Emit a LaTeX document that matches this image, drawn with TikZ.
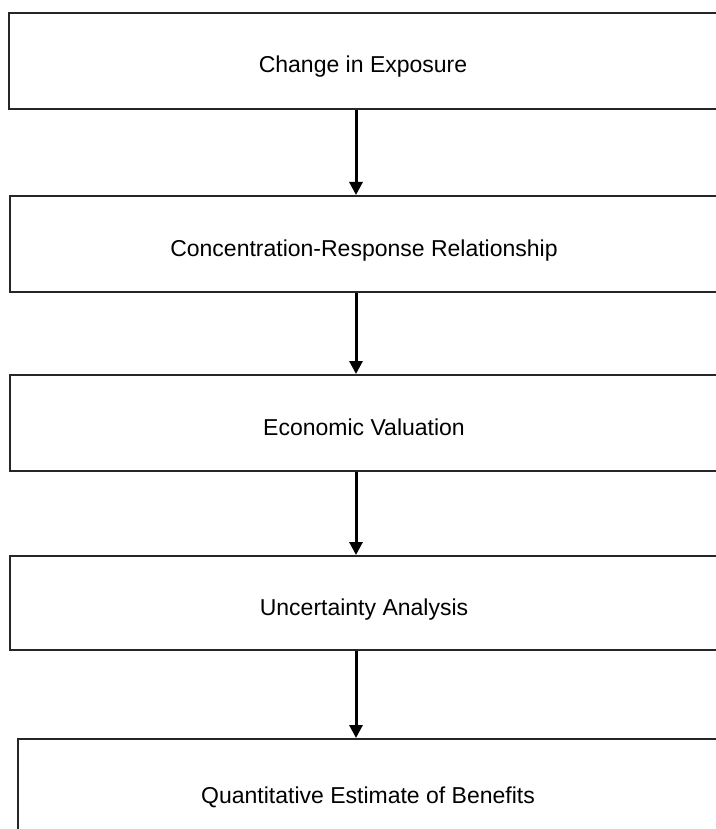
\documentclass[tikz,border=0pt]{standalone}
\usepackage{fontspec}
\setmainfont{Liberation Sans}
\usetikzlibrary{arrows.meta}

\begin{document}
\begin{tikzpicture}
  [x=1pt,y=-1pt,
   every node/.style={rectangle,draw=black!85,line width=2pt,anchor=north west,
     minimum width=708pt,minimum height=96pt,inner sep=0pt,
     text height=24pt,text depth=0pt,
     font=\fontsize{23}{27}\selectfont},
   flow/.style={line width=3pt,-{Triangle[width=13pt,length=13pt]}}]
  \useasboundingbox (0,0) rectangle (715,829);
  \node (n1) at (8,12)  {Change in Exposure};
  \node (n2) at (9,195) {Concentration-Response Relationship};
  \node (n3) at (9,374) {Economic Valuation};
  \node (n4) at (9,555) [minimum height=94pt] {Uncertainty Analysis};
  \node (n5) at (17,738) [minimum height=104pt,minimum width=700pt] {Quantitative Estimate of Benefits};
  \coordinate (ax) at (356,0);
  \foreach \from/\to in {n1/n2,n2/n3,n3/n4,n4/n5}
  \draw[flow] (\from.south -| ax) -- (\to.north -| ax);
\end{tikzpicture}
\end{document}
